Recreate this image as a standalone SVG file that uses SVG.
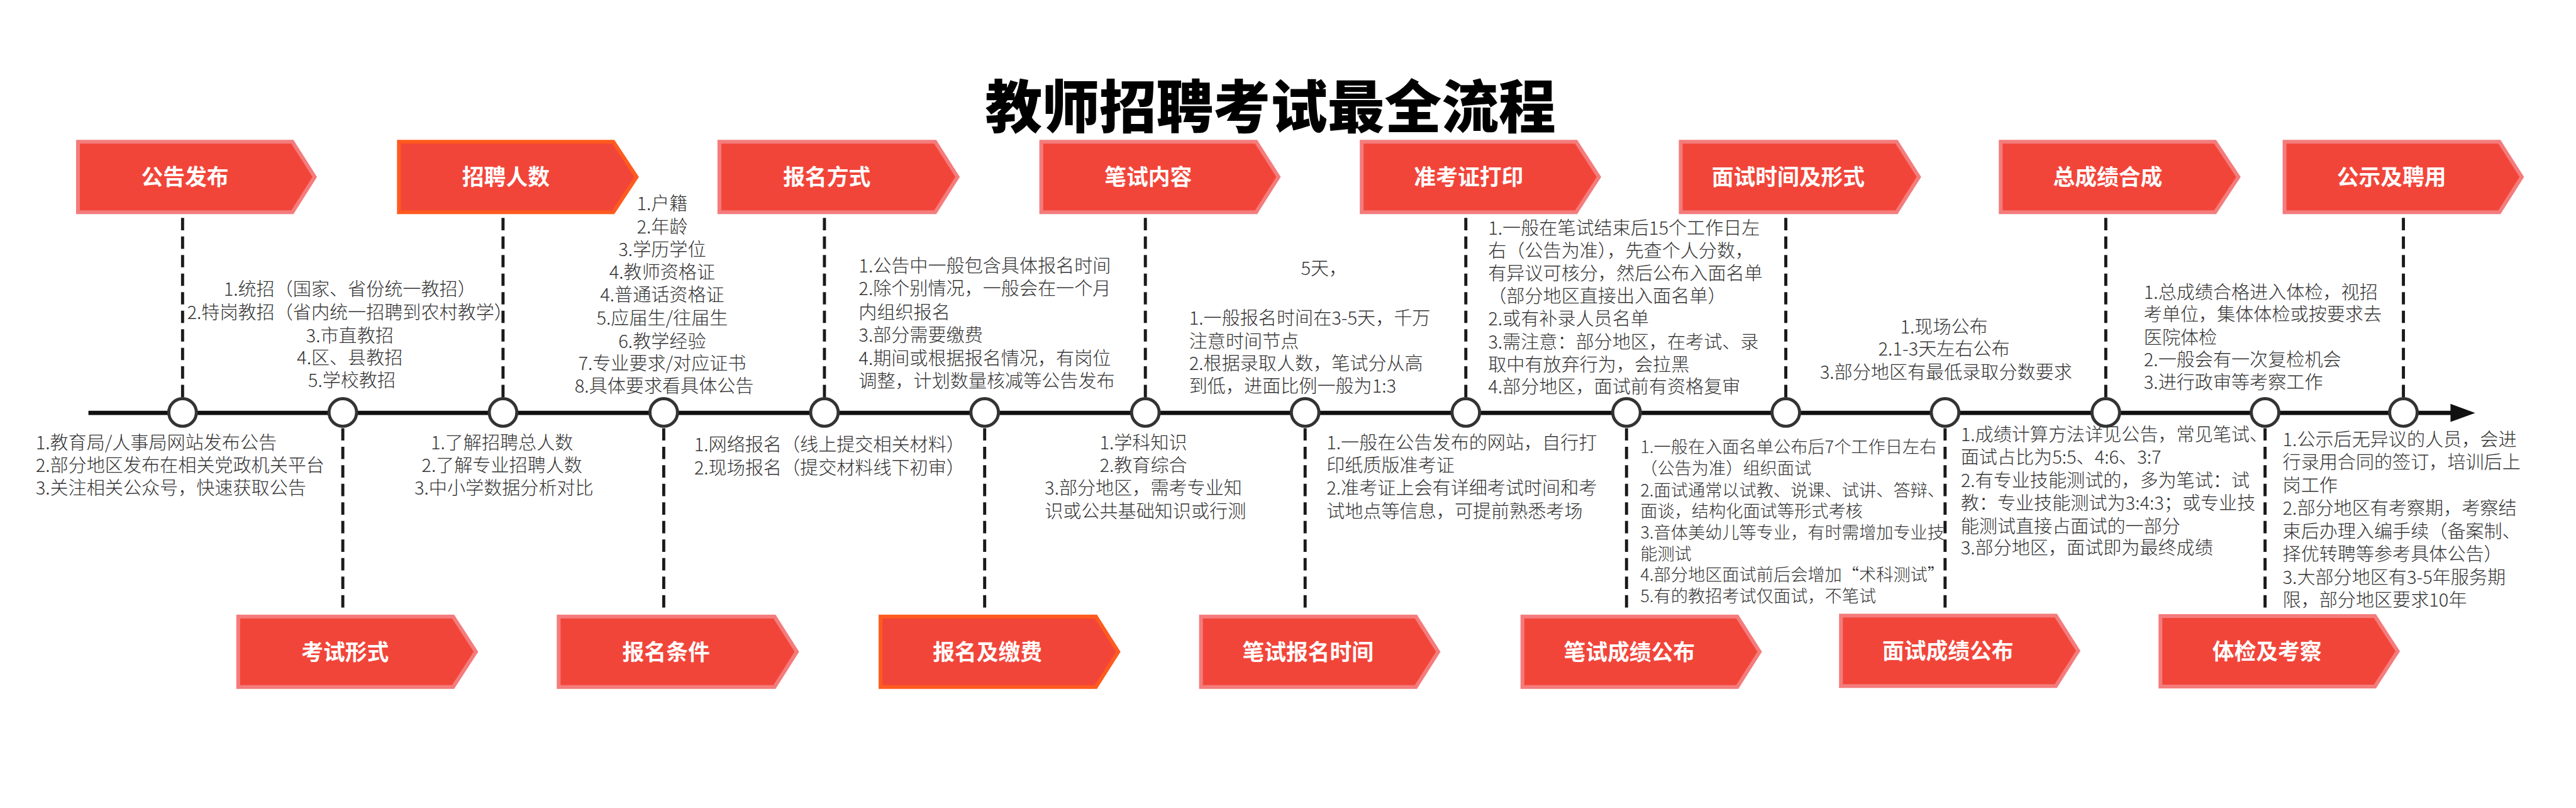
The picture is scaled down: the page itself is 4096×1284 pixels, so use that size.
<svg xmlns="http://www.w3.org/2000/svg" width="4096" height="1284" viewBox="0 0 4096 1284">
<style>
.box{fill:#F2453A;stroke:#F47C7C;stroke-width:8;stroke-linejoin:miter}
.box.o{stroke:#FF5A1F}
.bt{font-family:"Noto Sans CJK SC","Noto Sans",sans-serif;font-size:46px;font-weight:700;fill:#ffffff;text-anchor:middle}
.t{font-family:"Noto Sans CJK SC","Noto Sans",sans-serif;font-size:38.5px;font-weight:300;fill:#333333}
.s{font-size:36px}
.m{text-anchor:middle}
.dash{stroke:#1a1a1a;stroke-width:6.5;stroke-dasharray:26 13;fill:none}
.dot{fill:#ffffff;stroke:#333333;stroke-width:6.5}
.title{font-family:"Noto Sans CJK SC","Noto Sans",sans-serif;font-size:120px;font-weight:900;fill:#000000;text-anchor:middle}
</style>
<rect width="4096" height="1284" fill="#ffffff"/>
<g transform="scale(0.756)">
<text class="title" x="2672" y="268">教师招聘考试最全流程</text>

<g id="connectors">
  <line x1="186" y1="868" x2="5160" y2="868" stroke="#111111" stroke-width="9"/>
  <polygon points="5154,849 5206,868 5154,887" fill="#111111"/>
  <line class="dash" x1="384" y1="458" x2="384" y2="836"/>
  <line class="dash" x1="1058" y1="458" x2="1058" y2="836"/>
  <line class="dash" x1="1734" y1="458" x2="1734" y2="836"/>
  <line class="dash" x1="2409" y1="458" x2="2409" y2="836"/>
  <line class="dash" x1="3083" y1="458" x2="3083" y2="836"/>
  <line class="dash" x1="3756" y1="458" x2="3756" y2="836"/>
  <line class="dash" x1="4429" y1="458" x2="4429" y2="836"/>
  <line class="dash" x1="5055" y1="458" x2="5055" y2="836"/>
  <line class="dash" x1="721" y1="900" x2="721" y2="1288"/>
  <line class="dash" x1="1396" y1="900" x2="1396" y2="1288"/>
  <line class="dash" x1="2071" y1="900" x2="2071" y2="1288"/>
  <line class="dash" x1="2745" y1="900" x2="2745" y2="1288"/>
  <line class="dash" x1="3421" y1="900" x2="3421" y2="1288"/>
  <line class="dash" x1="4091" y1="900" x2="4091" y2="1288"/>
  <line class="dash" x1="4764" y1="900" x2="4764" y2="1288"/>
  <circle class="dot" cx="384" cy="867" r="29"/>
  <circle class="dot" cx="721" cy="867" r="29"/>
  <circle class="dot" cx="1058" cy="867" r="29"/>
  <circle class="dot" cx="1396" cy="867" r="29"/>
  <circle class="dot" cx="1734" cy="867" r="29"/>
  <circle class="dot" cx="2071" cy="867" r="29"/>
  <circle class="dot" cx="2409" cy="867" r="29"/>
  <circle class="dot" cx="2745" cy="867" r="29"/>
  <circle class="dot" cx="3083" cy="867" r="29"/>
  <circle class="dot" cx="3421" cy="867" r="29"/>
  <circle class="dot" cx="3756" cy="867" r="29"/>
  <circle class="dot" cx="4091" cy="867" r="29"/>
  <circle class="dot" cx="4429" cy="867" r="29"/>
  <circle class="dot" cx="4764" cy="867" r="29"/>
  <circle class="dot" cx="5055" cy="867" r="29"/>
</g>

<g id="n1">
  <path class="box" d="M164 298 H615 L662 372 L615 446 H164 Z"/>
  <text class="bt" x="389" y="389">公告发布</text>
</g>
<g id="n2">
  <path class="box o" d="M839 298 H1290 L1339 372 L1290 446 H839 Z"/>
  <text class="bt" x="1064" y="389">招聘人数</text>
</g>
<g id="n3">
  <path class="box" d="M1513 298 H1967 L2014 372 L1967 446 H1513 Z"/>
  <text class="bt" x="1739" y="389">报名方式</text>
</g>
<g id="n4">
  <path class="box" d="M2190 298 H2642 L2689 372 L2642 446 H2190 Z"/>
  <text class="bt" x="2415" y="389">笔试内容</text>
</g>
<g id="n5">
  <path class="box" d="M2864 298 H3315 L3363 372 L3315 446 H2864 Z"/>
  <text class="bt" x="3089" y="389">准考证打印</text>
</g>
<g id="n6">
  <path class="box" d="M3535 298 H3989 L4036 372 L3989 446 H3535 Z"/>
  <text class="bt" x="3761" y="389">面试时间及形式</text>
</g>
<g id="n7">
  <path class="box" d="M4208 298 H4659 L4708 372 L4659 446 H4208 Z"/>
  <text class="bt" x="4433" y="389">总成绩合成</text>
</g>
<g id="n8">
  <path class="box" d="M4805 298 H5257 L5304 372 L5257 446 H4805 Z"/>
  <text class="bt" x="5030" y="389">公示及聘用</text>
</g>

<g id="b1">
  <path class="box" d="M501 1296 H953 L1001 1370 L953 1444 H501 Z"/>
  <text class="bt" x="726" y="1387">考试形式</text>
</g>
<g id="b2">
  <path class="box" d="M1175 1296 H1629 L1676 1370 L1629 1444 H1175 Z"/>
  <text class="bt" x="1401" y="1387">报名条件</text>
</g>
<g id="b3">
  <path class="box o" d="M1852 1296 H2305 L2352 1370 L2305 1444 H1852 Z"/>
  <text class="bt" x="2077" y="1387">报名及缴费</text>
</g>
<g id="b4">
  <path class="box" d="M2526 1296 H2978 L3025 1370 L2978 1444 H2526 Z"/>
  <text class="bt" x="2751" y="1387">笔试报名时间</text>
</g>
<g id="b5">
  <path class="box" d="M3202 1296 H3654 L3701 1370 L3654 1444 H3202 Z"/>
  <text class="bt" x="3427" y="1387">笔试成绩公布</text>
</g>
<g id="b6">
  <path class="box" d="M3872 1294 H4324 L4371 1368 L4324 1442 H3872 Z"/>
  <text class="bt" x="4097" y="1385">面试成绩公布</text>
</g>
<g id="b7">
  <path class="box" d="M4544 1295 H4995 L5043 1369 L4995 1443 H4544 Z"/>
  <text class="bt" x="4768" y="1386">体检及考察</text>
</g>

<g id="notes-top">
  <text class="t m">
    <tspan x="740" y="622">1.统招（国家、省份统一教招）</tspan>
    <tspan x="740" y="671">2.特岗教招（省内统一招聘到农村教学）</tspan>
    <tspan x="740" y="719">3.市直教招</tspan>
    <tspan x="740" y="766">4.区、县教招</tspan>
    <tspan x="740" y="813">5.学校教招</tspan>
  </text>
  <text class="t m">
    <tspan x="1397" y="442">1.户籍</tspan>
    <tspan x="1397" y="491">2.年龄</tspan>
    <tspan x="1397" y="539">3.学历学位</tspan>
    <tspan x="1397" y="586">4.教师资格证</tspan>
    <tspan x="1397" y="634">4.普通话资格证</tspan>
    <tspan x="1397" y="683">5.应届生/往届生</tspan>
    <tspan x="1397" y="731">6.教学经验</tspan>
    <tspan x="1397" y="778">7.专业要求/对应证书</tspan>
    <tspan x="1397" y="825">8.具体要求看具体公告</tspan>
  </text>
  <text class="t">
    <tspan x="1806" y="573">1.公告中一般包含具体报名时间</tspan>
    <tspan x="1806" y="621">2.除个别情况，一般会在一个月</tspan>
    <tspan x="1806" y="670">内组织报名</tspan>
    <tspan x="1806" y="718">3.部分需要缴费</tspan>
    <tspan x="1806" y="767">4.期间或根据报名情况，有岗位</tspan>
    <tspan x="1806" y="815">调整，计划数量核减等公告发布</tspan>
  </text>
  <text class="t" x="2736" y="578">5天，</text>
  <text class="t">
    <tspan x="2501" y="683">1.一般报名时间在3-5天，千万</tspan>
    <tspan x="2501" y="731">注意时间节点</tspan>
    <tspan x="2501" y="778">2.根据录取人数，笔试分从高</tspan>
    <tspan x="2501" y="825">到低，进面比例一般为1:3</tspan>
  </text>
  <text class="t">
    <tspan x="3130" y="493">1.一般在笔试结束后15个工作日左</tspan>
    <tspan x="3130" y="541">右（公告为准），先查个人分数，</tspan>
    <tspan x="3130" y="589">有异议可核分，然后公布入面名单</tspan>
    <tspan x="3130" y="636">（部分地区直接出入面名单）</tspan>
    <tspan x="3130" y="684">2.或有补录人员名单</tspan>
    <tspan x="3130" y="733">3.需注意：部分地区，在考试、录</tspan>
    <tspan x="3130" y="780">取中有放弃行为，会拉黑</tspan>
    <tspan x="3130" y="827">4.部分地区，面试前有资格复审</tspan>
  </text>
  <text class="t m">
    <tspan x="4093" y="701">1.现场公布</tspan>
    <tspan x="4093" y="748">2.1-3天左右公布</tspan>
    <tspan x="4093" y="796">3.部分地区有最低录取分数要求</tspan>
  </text>
  <text class="t">
    <tspan x="4509" y="628">1.总成绩合格进入体检，视招</tspan>
    <tspan x="4509" y="675">考单位，集体体检或按要求去</tspan>
    <tspan x="4509" y="723">医院体检</tspan>
    <tspan x="4509" y="770">2.一般会有一次复检机会</tspan>
    <tspan x="4509" y="818">3.进行政审等考察工作</tspan>
  </text>
</g>

<g id="notes-bottom">
  <text class="t">
    <tspan x="75" y="945">1.教育局/人事局网站发布公告</tspan>
    <tspan x="75" y="992">2.部分地区发布在相关党政机关平台</tspan>
    <tspan x="75" y="1040">3.关注相关公众号，快速获取公告</tspan>
  </text>
  <text class="t m">
    <tspan x="1060" y="945">1.了解招聘总人数</tspan>
    <tspan x="1060" y="992">2.了解专业招聘人数</tspan>
    <tspan x="1060" y="1040">3.中小学数据分析对比</tspan>
  </text>
  <text class="t">
    <tspan x="1460" y="949">1.网络报名（线上提交相关材料）</tspan>
    <tspan x="1460" y="997">2.现场报名（提交材料线下初审）</tspan>
  </text>
  <text class="t m">
    <tspan x="2409" y="945">1.学科知识</tspan>
    <tspan x="2409" y="992">2.教育综合</tspan>
    <tspan x="2409" y="1040">3.部分地区，需考专业知</tspan>
    <tspan x="2409" y="1088">识或公共基础知识或行测</tspan>
  </text>
  <text class="t">
    <tspan x="2790" y="945">1.一般在公告发布的网站，自行打</tspan>
    <tspan x="2790" y="992">印纸质版准考证</tspan>
    <tspan x="2790" y="1040">2.准考证上会有详细考试时间和考</tspan>
    <tspan x="2790" y="1088">试地点等信息，可提前熟悉考场</tspan>
  </text>
  <text class="t s">
    <tspan x="3450" y="953">1.一般在入面名单公布后7个工作日左右</tspan>
    <tspan x="3450" y="998">（公告为准）组织面试</tspan>
    <tspan x="3450" y="1043">2.面试通常以试教、说课、试讲、答辩、</tspan>
    <tspan x="3450" y="1087">面谈，结构化面试等形式考核</tspan>
    <tspan x="3450" y="1132">3.音体美幼儿等专业，有时需增加专业技</tspan>
    <tspan x="3450" y="1177">能测试</tspan>
    <tspan x="3450" y="1221">4.部分地区面试前后会增加“术科测试”</tspan>
    <tspan x="3450" y="1266">5.有的教招考试仅面试，不笔试</tspan>
  </text>
  <text class="t">
    <tspan x="4124" y="927">1.成绩计算方法详见公告，常见笔试、</tspan>
    <tspan x="4124" y="975">面试占比为5:5、4:6、3:7</tspan>
    <tspan x="4124" y="1024">2.有专业技能测试的，多为笔试：试</tspan>
    <tspan x="4124" y="1072">教：专业技能测试为3:4:3；或专业技</tspan>
    <tspan x="4124" y="1120">能测试直接占面试的一部分</tspan>
    <tspan x="4124" y="1166">3.部分地区，面试即为最终成绩</tspan>
  </text>
  <text class="t">
    <tspan x="4801" y="938">1.公示后无异议的人员，会进</tspan>
    <tspan x="4801" y="986">行录用合同的签订，培训后上</tspan>
    <tspan x="4801" y="1034">岗工作</tspan>
    <tspan x="4801" y="1082">2.部分地区有考察期，考察结</tspan>
    <tspan x="4801" y="1131">束后办理入编手续（备案制、</tspan>
    <tspan x="4801" y="1179">择优转聘等参考具体公告）</tspan>
    <tspan x="4801" y="1228">3.大部分地区有3-5年服务期</tspan>
    <tspan x="4801" y="1275">限，部分地区要求10年</tspan>
  </text>
</g>
</g>
</svg>
